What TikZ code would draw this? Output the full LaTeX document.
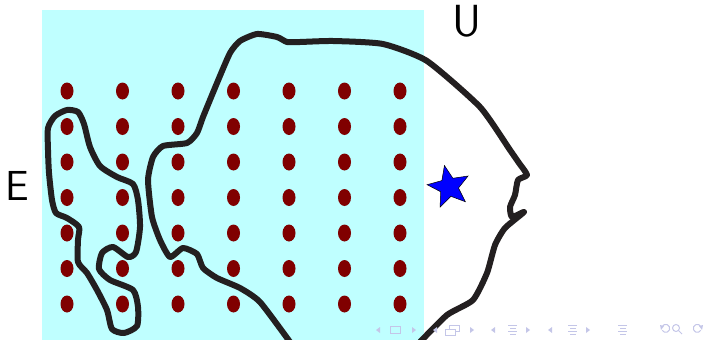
\documentclass[tikz,border=0pt]{standalone}
\usetikzlibrary{shapes.geometric}
\definecolor{cyanbg}{RGB}{191,255,255}
\definecolor{dotred}{RGB}{128,0,0}
\definecolor{ink}{RGB}{35,31,32}
\definecolor{navc}{RGB}{196,198,232}
\begin{document}
\begin{tikzpicture}[x=1pt,y=-1pt,
  outline/.style={draw=ink,line width=6pt,line join=round,line cap=round},
  dotmark/.style={fill=dotred},
  lbl/.style={inner sep=0pt,font=\fontsize{42}{42}\selectfont\sffamily},
  navtri/.style={fill=navc},
  navline/.style={draw=navc,line width=1pt}]
\useasboundingbox (0,0) rectangle (707,340);
\fill[cyanbg] (42,10) rectangle (424,340);
% big curve U
\draw[outline] plot[smooth,tension=0.35] coordinates {
 (290,342) (260,302) (240,288) (217,278) (203,268) (197,254) (183,248) (170,257)
 (160,240) (152,217) (148,180) (153,157) (163,146) (187,143) (197,133) (203,117)
 (217,83) (230,53) (240,41) (257,34) (277,37) (287,42) (300,42) (333,41) (383,44)
 (427,61) (480,107) (510,150) (519,163) (527,175) (518,180) (515,195) (510,207)
 (512,217) (524,212) (505,228) (495,245) (487,273) (473,300) (447,315) (420,342)};
% small loop
\draw[outline] plot[smooth cycle,tension=0.4] coordinates {
 (48,128) (55,116) (67,110) (78,112) (84,124) (90,147) (100,166) (117,177)
 (133,184) (138,200) (140,227) (136,252) (128,257) (113,247) (102,253) (99,269)
 (110,280) (133,290) (138,307) (137,326) (124,333) (112,329) (107,310) (97,290)
 (87,273) (78,262) (78,240) (79,227) (67,218) (56,213) (52,200) (49,173) (48,150)};
% dots
\foreach \i in {0,...,6}
  \foreach \j in {0,...,6}
    \fill[dotmark] ({67+55.5*\i},{91+35.5*\j}) ellipse [x radius=6.5pt, y radius=8.5pt];
% star
\node[star,star points=5,star point ratio=2.3,minimum size=44pt,inner sep=0pt,
      fill=blue,draw=black,line width=0.5pt,rotate=12] (star) at (449,187) {};
% labels
\node[lbl] (E) at (17,186) {E};
\node[lbl,font=\fontsize{45}{45}\selectfont\sffamily] (U) at (467,21) {U};
% navigation symbols
\fill[navtri] (380,327) -- (376,330) -- (380,333) -- cycle;
\draw[navline] (390,326.5) rectangle (400,333);
\fill[navtri] (412,327) -- (416,330) -- (412,333) -- cycle;
\fill[navtri] (437,327) -- (433,330) -- (437,333) -- cycle;
\draw[navline] (449,325) rectangle (459,331);
\draw[navline,fill=white] (445,329) rectangle (455,335);
\fill[navtri] (470,327) -- (474,330) -- (470,333) -- cycle;
\fill[navtri] (495,327) -- (491,330) -- (495,333) -- cycle;
\foreach \y/\a/\b in {325/508/517,328/510/516,331/508/517,334/510/516}
  \draw[navline] (\a,\y) -- (\b,\y);
\fill[navtri] (526,327) -- (530,330) -- (526,333) -- cycle;
\fill[navtri] (552,327) -- (548,330) -- (552,333) -- cycle;
\foreach \y/\a/\b in {325/568/577,328/570/576,331/568/577,334/570/576}
  \draw[navline] (\a,\y) -- (\b,\y);
\fill[navtri] (586,327) -- (590,330) -- (586,333) -- cycle;
\foreach \y/\a/\b in {325/618/627,328/620/626,331/618/627,334/620/626}
  \draw[navline] (\a,\y) -- (\b,\y);
\draw[navline] (662,327) arc[start angle=160,end angle=-150,radius=4pt];
\fill[navtri] (660,325) -- (664,326) -- (661,330) -- cycle;
\draw[navline] (676,328) circle[radius=3.5pt];
\draw[navline] (678.5,330.5) -- (682,334);
\draw[navline] (701,327) arc[start angle=20,end angle=330,radius=4pt];
\fill[navtri] (703,325) -- (699,326) -- (702,330) -- cycle;
\end{tikzpicture}
\end{document}
